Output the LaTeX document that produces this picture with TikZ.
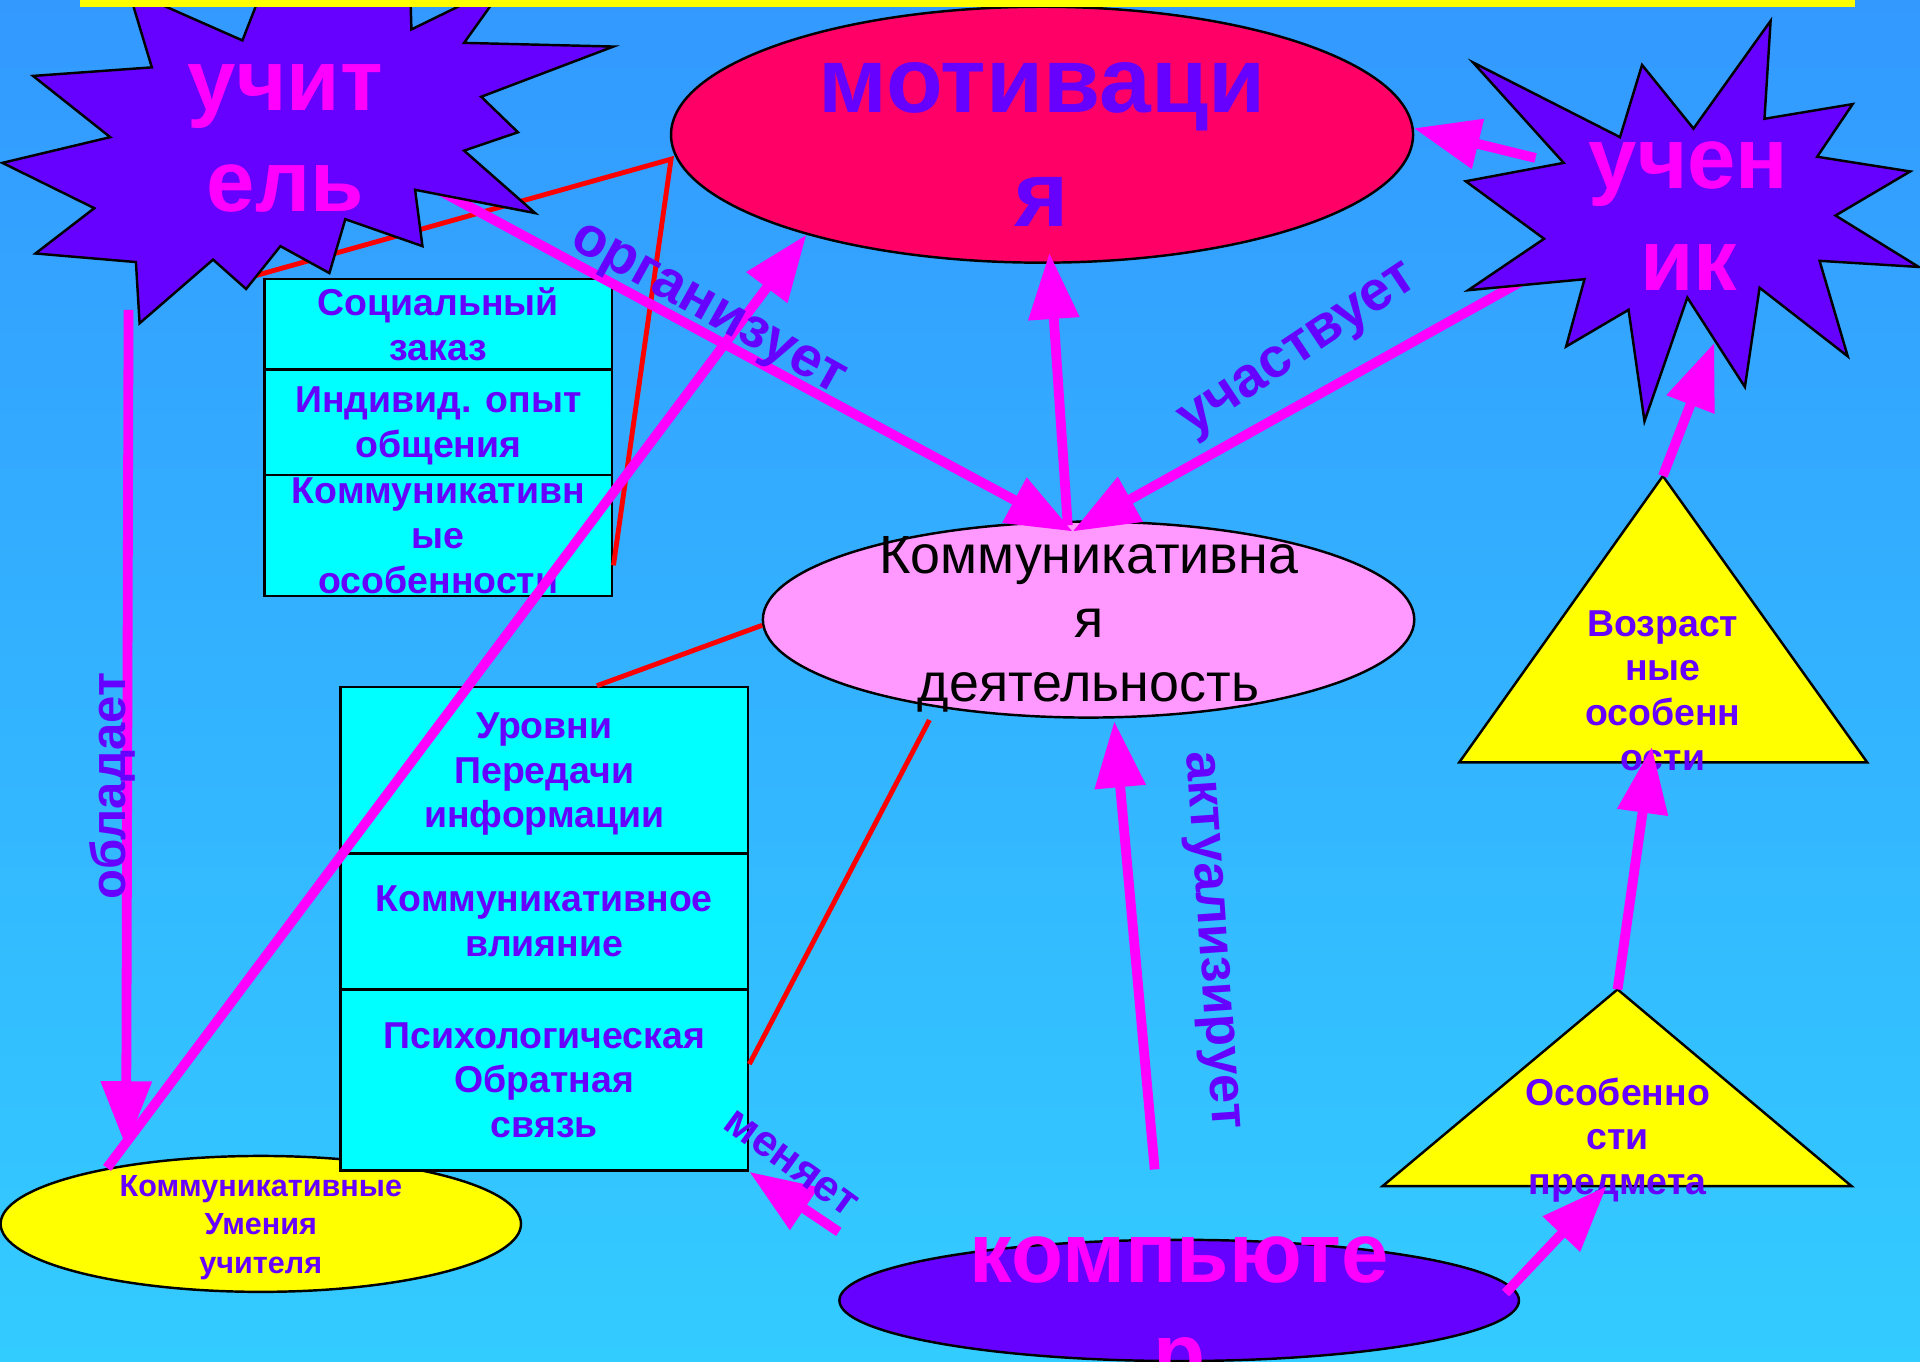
\documentclass[tikz,border=0pt]{standalone}
\usepackage{fontspec}
\setmainfont{Liberation Sans}
\usetikzlibrary{shapes.geometric,arrows.meta,calc}

\definecolor{bgtop}{RGB}{51,153,255}
\definecolor{bgbot}{RGB}{51,204,255}
\definecolor{ink}{RGB}{102,0,255}
\definecolor{mag}{RGB}{255,0,255}
\definecolor{crimson}{RGB}{255,0,102}
\definecolor{lilac}{RGB}{255,153,255}
\definecolor{aqua}{RGB}{0,255,255}
\definecolor{lemon}{RGB}{255,255,0}

\newcommand{\fsz}[2]{\fontsize{#1}{#2}\selectfont}

\begin{document}
\begin{tikzpicture}[x=0.1mm, y=-0.1mm,
    cellbox/.style={draw=black, line width=0.2mm, fill=aqua, text=ink, align=center, inner sep=0pt, text depth=0pt, font=\bfseries\fsz{8.7}{10.4}},
    oval/.style={ellipse, draw=black, line width=0.2mm, inner sep=0pt},
    burst/.style={draw=black, line width=0.2mm, fill=ink},
    tri/.style={draw=black, line width=0.2mm, fill=lemon},
    link/.style={draw=mag, line width=0.8mm, -{Triangle[length=5.4mm, width=4mm]}},
    tie/.style={draw=red, line width=0.4mm},
    bigword/.style={font=\bfseries\fsz{20.2}{23.6}, text=mag, align=center, inner sep=0pt},
    smallword/.style={font=\bfseries\fsz{8.7}{10.4}, text=ink, align=center, inner sep=0pt},
    verbtext/.style={font=\bfseries\fsz{13}{15}, text=ink, inner sep=0pt}]

    % Background
    \useasboundingbox (0,0) rectangle (1568,1112);
    \clip (0,0) rectangle (1568,1112);
    \shade[top color=bgtop, bottom color=bgbot] (0,0) rectangle (1568,1112);

    % Ellipses
    \node[oval, fill=crimson, minimum width=60.6mm, minimum height=20.9mm] (motiv) at (851,110) {};
    \node[oval, fill=lilac, minimum width=53.2mm, minimum height=16mm] (komm) at (889,506) {};
    \node[oval, fill=lemon, minimum width=42.5mm, minimum height=11.1mm] (umen) at (213,999.5) {};
    \node[oval, fill=ink, minimum width=55.5mm, minimum height=9.9mm] (comp) at (963,1062) {};

    \node[font=\bfseries\fsz{21.6}{26.7}, text=ink, align=center, inner sep=0pt] (motivText) at (851,118) {мотиваци\\я};
    \node[font=\fsz{12.5}{14.8}, align=center, inner sep=0pt] (kommText) at (889,510) {Коммуникативна\\я\\деятельность};
    \node[font=\bfseries\fsz{7.1}{9}, text=ink, align=center, inner sep=0pt] (umenText) at (213,1002.5) {Коммуникативные\\Умения\\учителя};

    % Boxes
    \node[cellbox, minimum width=28.4mm, minimum height=7.36mm] (zakaz) at (358,264.8) {Социальный\\заказ};
    \node[cellbox, minimum width=28.4mm, minimum height=8.64mm] (opyt) at (358,344.8) {Индивид. опыт\\общения};
    \node[cellbox, minimum width=28.4mm, minimum height=9.87mm] (osob) at (358,437.35) {Коммуникативн\\ые\\особенности};

    \node[cellbox, minimum width=33.3mm, minimum height=13.6mm] (urovni) at (444.5,629) {Уровни\\Передачи\\информации};
    \node[cellbox, minimum width=33.3mm, minimum height=11.1mm] (vliyanie) at (444.5,752.5) {Коммуникативное\\влияние};
    \node[cellbox, minimum width=33.3mm, minimum height=14.8mm] (psych) at (444.5,882) {Психологическая\\Обратная\\связь};

    % Triangles
    \coordinate (vozrTop) at (1358,388.7);
    \coordinate (osobTop) at (1321,808);
    \coordinate (osobL) at (1129.2,968.6);
    \coordinate (osobR) at (1512,968.6);
    \draw[tri] (vozrTop) -- (1524.9,622.6) -- (1191.7,622.6) -- cycle;
    \draw[tri] (osobTop) -- (osobR) -- (osobL) -- cycle;
    \node[smallword] (vozrText) at (1358,564) {Возраст\\ные\\особенн\\ости};
    \node[smallword] (predmText) at (1321,931) {Особенно\\сти\\предмета};

    % Red ties
    \draw[tie] ($(zakaz.north west)+(-6,-2)$) -- ($(motiv.west)+(1,20)$) -- ($(osob.south east)+(0,-26)$);
    \draw[tie] ($(urovni.north)+(43,0)$) -- (komm.181);
    \draw[tie] ($(komm.south)+(-130,1)$) -- ($(psych.east)+(0,-13)$);

    % Arrows under the stars
    \coordinate (hub) at ($(komm.north)+(-13,9)$);
    \coordinate (orgStart) at (330,140);
    \coordinate (uchStart) at (1260,220);
    \draw[link] (orgStart) -- (hub);
    \draw[link] (uchStart) -- (hub);

    % Stars
    \draw[burst] (105,-8) -- (124,55) -- (27,62) -- (90,112) -- (2,133) -- (77,170) -- (29,207) -- (111,214) -- (114,264) -- (174,212) -- (201,236) -- (229,201) -- (269,223) -- (282,179) -- (345,201) -- (339,155) -- (437,174) -- (379,123) -- (423,108) -- (393,79) -- (501,38) -- (379,35) -- (414,-14) -- (336,24) -- (335,-8) -- (275,-2) -- (214,-8) -- (198,33) -- cycle;
    \draw[burst] (1446,17) -- (1441,97) -- (1513,85) -- (1484,128) -- (1560,140) -- (1499,176) -- (1567,218) -- (1486,213) -- (1509,291) -- (1437,235) -- (1425,316) -- (1378,243) -- (1343,344) -- (1330,253) -- (1279,283) -- (1294,228) -- (1199,237) -- (1261,195) -- (1197,148) -- (1277,133) -- (1203,51) -- (1323,112) -- (1341,53) -- (1383,105) -- cycle;
    \node[bigword] (uchitelText) at (233,113) {учит\\ель};
    \node[bigword] (uchenikText) at (1379,176.5) {учен\\ик};
    \node[bigword, font=\bfseries\fsz{19.8}{23.6}] (compText) at (963,1077) {компьюте\\р};

    % Other arrows
    \coordinate (uchenOut) at (1254,129);
    \coordinate (studIn) at (1400,280);
    \coordinate (vozrIn) at (1349,610);
    \coordinate (compTop) at (943,955);
    \coordinate (menStart) at (685,1006);
    \coordinate (oblStart) at (105,253);
    \draw[link] ($(komm.north)+(-17,4)$) -- ($(motiv.south)+(6,-9)$);
    \draw[link] (uchenOut) -- (motiv.1);
    \draw[link] (vozrTop) -- (studIn);
    \draw[link] (osobTop) -- (vozrIn);
    \draw[link] ($(comp.east)+(-12,-6)$) -- ($(osobL)!.478!(osobR)$);
    \draw[link] (compTop) -- ($(komm.south)+(21,2)$);
    \draw[link] (menStart) -- (psych.south east);
    \draw[link] (oblStart) -- ($(umen.north)+(-110,-6)$);
    \draw[link] (umen.160) -- (motiv.203);

    % Labels
    \node[verbtext, rotate=-29] (orgLabel) at (577,255) {организует};
    \node[verbtext, rotate=33.7] (uchLabel) at (1062,288) {участвует};
    \node[verbtext, rotate=90, font=\bfseries\fsz{11.4}{13}] (oblLabel) at (92,642) {обладает};
    \node[verbtext, rotate=-86, font=\bfseries\fsz{12.2}{14}] (aktLabel) at (987,768) {актуализирует};
    \node[verbtext, rotate=-36, font=\bfseries\fsz{10.2}{12}] (menLabel) at (646,950) {меняет};

    % Top bar
    \fill[lemon] (65,0) rectangle (1515,5.4);
\end{tikzpicture}
\end{document}
